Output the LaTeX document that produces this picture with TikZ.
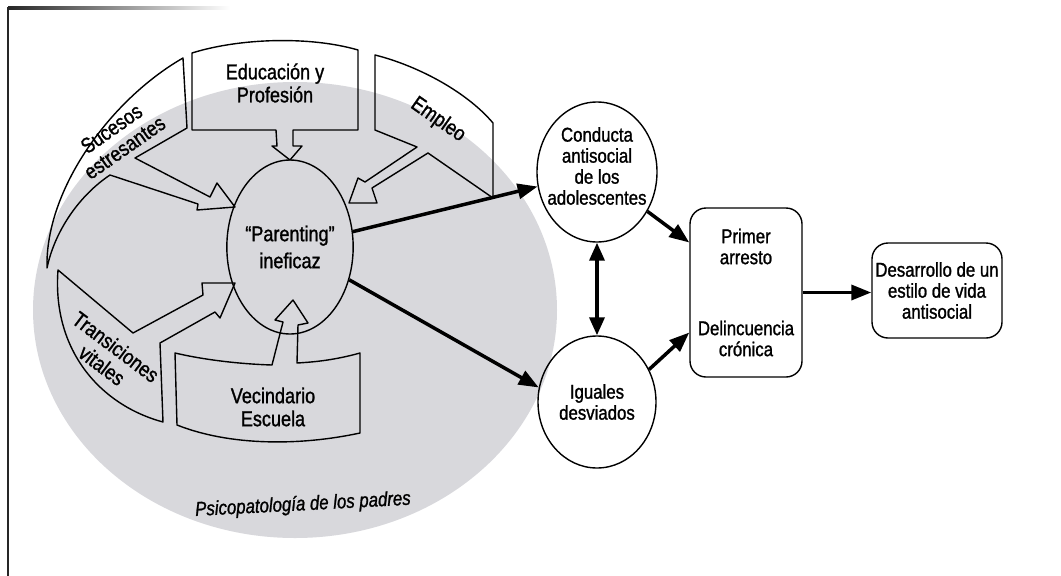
\documentclass[tikz,border=0pt]{standalone}
\usepackage{fontspec}
\setmainfont{Liberation Sans}[FakeStretch=0.84,FakeBold=1.2]
\usetikzlibrary{arrows.meta,calc,shapes.geometric}
\definecolor{bggray}{RGB}{216,216,220}
\begin{document}
\begin{tikzpicture}[x=1pt,y=-1pt,
  band/.style={draw=black,line width=1.4pt,line join=round},
  lefttxt/.style={font=\fontsize{21.5}{23}\selectfont,align=center,inner sep=0pt},
  righttxt/.style={font=\fontsize{20}{21}\selectfont,align=center,inner sep=0pt},
  bigarrow/.style={line width=3.5pt,-{Triangle[length=20pt,width=15pt]}},
  dblarrow/.style={line width=3.5pt,{Triangle[length=18pt,width=15pt]}-{Triangle[length=18pt,width=15pt]}},
  circ/.style={draw,ellipse,line width=1.4pt,inner sep=0pt},
  rbox/.style={draw,rectangle,rounded corners=16pt,line width=1.4pt,inner sep=0pt,align=center,font=\fontsize{20}{21}\selectfont}
]
\fill[white] (0,0) rectangle (1061,576);
\useasboundingbox (0,0) rectangle (1061,576);
% scan borders
\shade[left color=black!85,right color=white] (8,6) rectangle (230,9);
\draw[line width=2pt,black!85] (8,7) -- (8,576);
% background ellipse
\fill[bggray] (295,310) ellipse [x radius=262, y radius=228];

% central ellipse
\node[circ,minimum width=126pt,minimum height=174pt,font=\fontsize{21.5}{23}\selectfont,align=center] (par) at (290,247) {“Parenting”\\[4pt]ineficaz};

% bands
\draw[band] (47,268) .. controls (45,190) and (110,100) .. (183,58) -- (187,128) -- (135,158) -- (210,197) -- (217,183) -- (235,207) -- (197,210) -- (198,204) -- (110,175) .. controls (80,195) and (55,230) .. (47,268) -- cycle;
\draw[band] (192,53) .. controls (240,38) and (310,36) .. (358,50) -- (358,130) -- (293,130) -- (293,146) -- (302,146) -- (290,160) -- (272,146) -- (277,146) -- (276,130) -- (192,130) -- cycle;
\draw[band] (375,55) .. controls (415,65) and (465,90) .. (493,123) -- (493,198) -- (428,153) -- (372,188) -- (377,203) -- (349,203) -- (358,178) -- (365,182) -- (417,147) -- (375,130) -- cycle;
\draw[band] (58,270) -- (133,333) -- (203,295) -- (202,283) -- (235,283) -- (220,318) -- (215,312) -- (160,343) -- (163,422) .. controls (100,405) and (52,350) .. (58,270) -- cycle;
\draw[band] (175,353) -- (177,425) .. controls (230,446) and (300,446) .. (360,433) -- (360,353) .. controls (335,360) and (315,362) .. (297,363) -- (298,325) -- (308,323) -- (293,300) -- (275,320) -- (283,322) -- (272,365) .. controls (240,364) and (205,360) .. (175,353) -- cycle;

% band texts
\node[lefttxt,rotate=35] (suc) at (118,138) {Sucesos\\estresantes};
\node[lefttxt] (edu) at (275,83) {Educación y\\Profesión};
\node[lefttxt,rotate=-35] (emp) at (438,120) {Empleo};
\node[lefttxt,rotate=-37] (tra) at (109,356) {Transiciones\\vitales};
\node[lefttxt] (vec) at (273,407) {Vecindario\\Escuela};
\node[lefttxt,font=\fontsize{20}{21}\selectfont\itshape,rotate=3] (psi) at (303,505) {Psicopatología de los padres};

% right part
\node[circ,minimum width=120pt,minimum height=140pt] (con) at (597,172) {};
\node[righttxt] (conT) at (597,166) {Conducta\\antisocial\\de los\\adolescentes};
\node[circ,minimum width=118pt,minimum height=132pt,font=\fontsize{20}{21}\selectfont,align=center] (igu) at (597,402) {Iguales\\desviados};
\node[rbox,minimum width=112pt,minimum height=169pt] (pri) at (746,292.5) {Primer\\arresto\\[50pt]Delincuencia\\crónica};
\node[rbox,minimum width=130pt,minimum height=95pt] (des) at (937,290.5) {Desarrollo de un\\estilo de vida\\antisocial};

% connectors
\draw[bigarrow] (par) -- (con);
\draw[bigarrow] (par.-29) -- (igu.166);
\draw[bigarrow] (con.-38) -- ($(pri.west)+(0,-50)$);
\draw[bigarrow] (igu.32) -- ($(pri.west)+(0,40)$);
\draw[dblarrow] (con.south) -- (igu.north);
\draw[bigarrow] (pri.east) -- (pri.east -| des.west);
\end{tikzpicture}
\end{document}
